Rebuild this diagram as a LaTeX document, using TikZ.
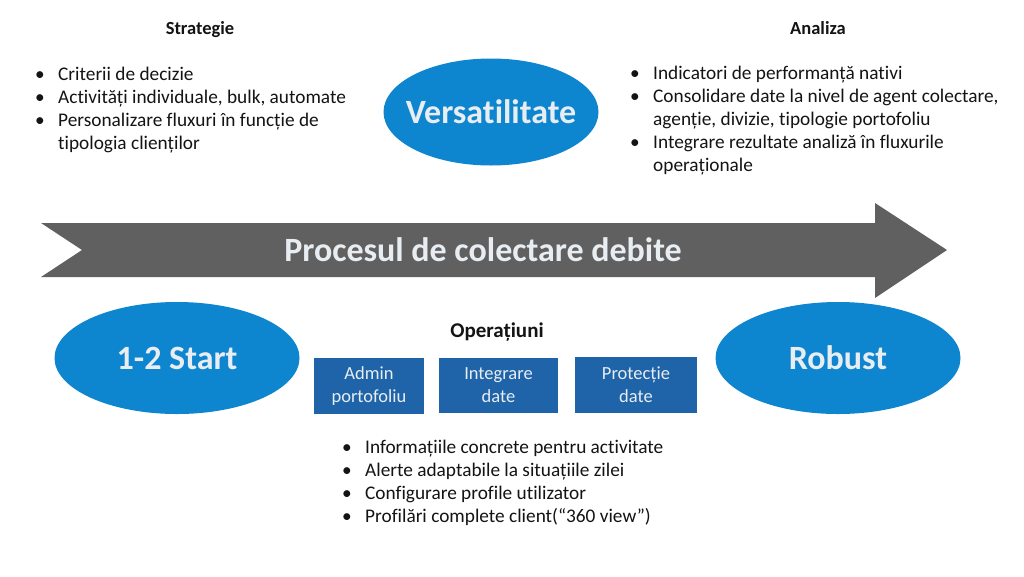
\documentclass[tikz,border=0pt]{standalone}
\usepackage{fontspec}
\setmainfont{Carlito}[Ligatures={NoCommon}]
\usetikzlibrary{shapes.geometric, positioning}

\definecolor{ovalblue}{RGB}{13,133,207}
\definecolor{boxblue}{RGB}{31,100,168}
\definecolor{arrowgray}{RGB}{96,96,97}
\definecolor{softwhite}{RGB}{232,237,242}
\definecolor{inkblack}{RGB}{20,20,20}

\newcommand{\bul}{\makebox[23pt][l]{\textbullet}}
\newcommand{\ind}{\hspace*{23pt}}

\begin{document}
\begin{tikzpicture}[x=1pt, y=-1pt,
        oval/.style={ellipse, fill=ovalblue, minimum width=245pt, minimum height=112pt, inner xsep=-14pt, inner ysep=0pt, text=softwhite, font=\fontsize{34}{38}\selectfont\bfseries},
        opbox/.style={fill=boxblue, align=center, inner sep=0pt, text=softwhite, font=\fontsize{18.5}{23}\selectfont},
        head/.style={anchor=base, inner sep=0pt, text=inkblack, font=\fontsize{18.5}{22}\selectfont\bfseries},
        list/.style={anchor=north west, inner sep=0pt, align=left, text=inkblack, font=\fontsize{19.3}{23}\selectfont}]
    \useasboundingbox[fill=white] (0,0) rectangle (1024,576);

    % process arrow
    \fill[arrowgray] (41,223) -- (875,223) -- (875,203) -- (947,250) -- (875,298)
        -- (875,277) -- (41,277) -- (82,250) -- cycle;
    \node[text=softwhite, font=\fontsize{34}{38}\selectfont\bfseries] (proc) at (483,250) {Procesul de colectare debite};

    % ovals
    \node[oval, minimum width=215pt, minimum height=107pt] (vers) at (491,112) {Versatilitate};
    \node[oval] (start) at (177,358) {1-2 Start};
    \node[oval] (rob)   at (838,358) {Robust};

    % headings
    \node[head] (strat) at (200,34)  {Strategie};
    \node[head] (anal)  at (818,34)  {Analiza};
    \node[head, font=\fontsize{21}{24}\selectfont\bfseries] (oper) at (497,337) {Operațiuni};

    % operations boxes
    \node[opbox, minimum width=110pt, minimum height=56pt] (admin) at (369,386)   {Admin\\portofoliu};
    \node[opbox, minimum width=119pt, minimum height=55pt] (integ) at (498.5,385) {Integrare\\date};
    \node[opbox, minimum width=122pt, minimum height=56pt] (prot)  at (636,385)   {Protecție\\date};

    % bullet lists
    \node[list] (stratlist) at (35,67) {\bul Criterii de decizie\\
        \bul Activități individuale, bulk, automate\\
        \bul Personalizare fluxuri în funcție de\\
        \ind tipologia clienților};
    \node[list] (anallist) at (630,66) {\bul Indicatori de performanță nativi\\
        \bul Consolidare date la nivel de agent colectare,\\
        \ind agenție, divizie, tipologie portofoliu\\
        \bul Integrare rezultate analiză în fluxurile\\
        \ind operaționale};
    \node[list] (operlist) at (342,440) {\bul Informațiile concrete pentru activitate\\
        \bul Alerte adaptabile la situațiile zilei\\
        \bul Configurare profile utilizator\\
        \bul Profilări complete client(“360 view”)};
\end{tikzpicture}
\end{document}
